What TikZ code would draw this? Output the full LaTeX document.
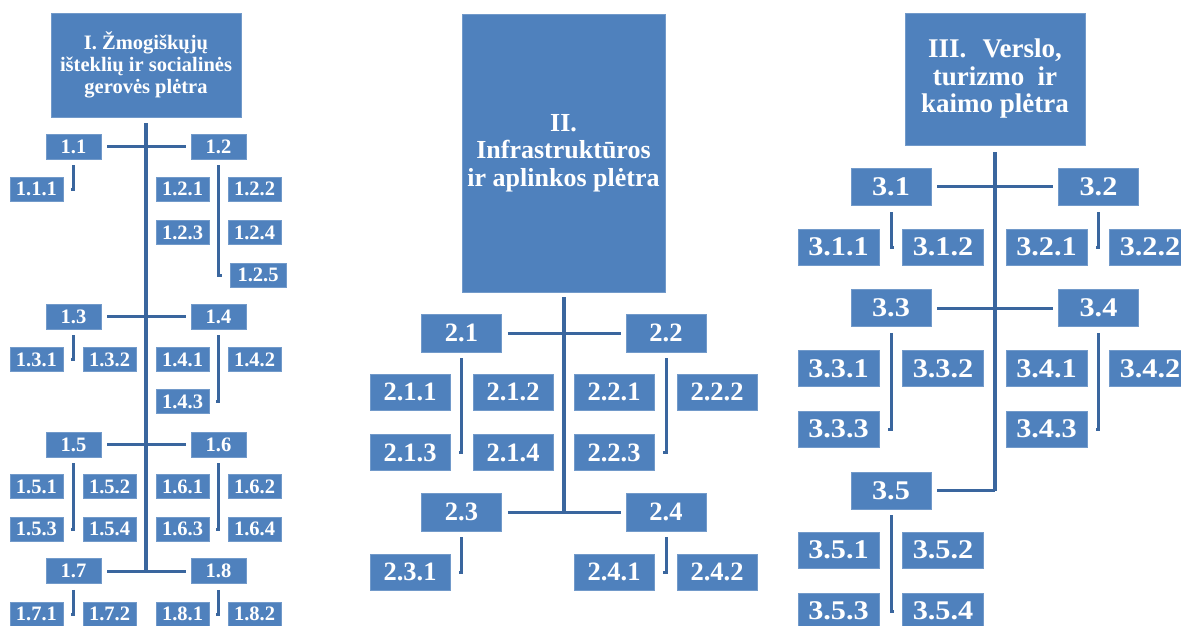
\documentclass[tikz,border=0pt]{standalone}
\usepackage{fontspec}
\setmainfont{Liberation Serif}
\newfontfamily\widefont[FakeStretch=1.12]{Liberation Serif}
\definecolor{boxblue}{RGB}{79,129,189}
\definecolor{lineblue}{RGB}{58,102,158}
\tikzset{
    box/.style={rectangle, fill=boxblue, draw=boxblue!80!white, line width=0.6pt, inner sep=0pt, text=white, align=center},
    lbox/.style={box, minimum width=55pt, minimum height=25pt, font=\fontsize{20.5}{22}\selectfont\bfseries},
    lsub/.style={box, minimum width=53pt, minimum height=24pt, font=\fontsize{20.5}{22}\selectfont\bfseries},
    mbox/.style={box, minimum width=80pt, minimum height=38pt, font=\fontsize{26.5}{28}\selectfont\bfseries},
    msub/.style={box, minimum width=80pt, minimum height=36pt, font=\fontsize{26.5}{28}\selectfont\bfseries},
    rbox/.style={box, minimum width=80pt, minimum height=37pt, font=\widefont\fontsize{27}{28}\selectfont\bfseries},
    rsub/.style={box, minimum width=81pt, minimum height=36pt, font=\widefont\fontsize{27}{28}\selectfont\bfseries},
    spine/.style={draw=lineblue, line width=4pt},
    bar/.style={draw=lineblue, line width=3pt, shorten <=6pt, shorten >=5pt},
    sub/.style={draw=lineblue, line width=3pt}
}
\begin{document}
\begin{tikzpicture}[x=1pt, y=-1pt]
    \useasboundingbox (0,0) rectangle (1181,626);

    % I. column
    \node[box, minimum width=190pt, minimum height=104pt, font=\fontsize{20.5}{22}\selectfont\bfseries] (t1) at (146,65) {I. Žmogiškųjų\\išteklių ir socialinės\\gerovės plėtra};
    \node[lbox] (a11) at (73.5,146.5) {1.1};
    \node[lbox] (a12) at (218.5,146.5) {1.2};
    \node[lbox] (a13) at (73.5,316.5) {1.3};
    \node[lbox] (a14) at (218.5,316.5) {1.4};
    \node[lbox] (a15) at (73.5,444.5) {1.5};
    \node[lbox] (a16) at (218.5,444.5) {1.6};
    \node[lbox] (a17) at (73.5,571) {1.7};
    \node[lbox] (a18) at (218.5,571) {1.8};
    \node[lsub] (a111) at (36.5,189) {1.1.1};
    \node[lsub] (a121) at (182.5,189) {1.2.1};
    \node[lsub] (a122) at (254.5,189) {1.2.2};
    \node[lsub] (a123) at (182.5,232.5) {1.2.3};
    \node[lsub] (a124) at (254.5,232.5) {1.2.4};
    \node[lsub, minimum width=56pt] (a125) at (258,275) {1.2.5};
    \node[lsub] (a131) at (36.5,359.5) {1.3.1};
    \node[lsub] (a132) at (109.5,359.5) {1.3.2};
    \node[lsub] (a141) at (182.5,359.5) {1.4.1};
    \node[lsub] (a142) at (254.5,359.5) {1.4.2};
    \node[lsub] (a143) at (182.5,401.5) {1.4.3};
    \node[lsub] (a151) at (36.5,486.5) {1.5.1};
    \node[lsub] (a152) at (109.5,486.5) {1.5.2};
    \node[lsub] (a161) at (182.5,486.5) {1.6.1};
    \node[lsub] (a162) at (254.5,486.5) {1.6.2};
    \node[lsub] (a153) at (36.5,529) {1.5.3};
    \node[lsub] (a154) at (109.5,529) {1.5.4};
    \node[lsub] (a163) at (182.5,529) {1.6.3};
    \node[lsub] (a164) at (254.5,529) {1.6.4};
    \node[lsub] (a171) at (36.5,614) {1.7.1};
    \node[lsub] (a172) at (109.5,614) {1.7.2};
    \node[lsub] (a181) at (182.5,614) {1.8.1};
    \node[lsub] (a182) at (254.5,614) {1.8.2};

    \draw[spine] ([yshift=-6pt]t1.south) -- (t1.south |- a17.east);
    \draw[bar] (a11.east) -- (a12.west);
    \draw[bar] (a13.east) -- (a14.west);
    \draw[bar] (a15.east) -- (a16.west);
    \draw[bar] (a17.east) -- (a18.west);
    \draw[sub] ([yshift=-6pt]a11.south) -- (a11.south |- a111.east) -- ++(-3,0);
    \draw[sub] ([yshift=-6pt]a12.south) -- (a12.south |- a125.west) -- ++(3,0);
    \draw[sub] ([yshift=-6pt]a13.south) -- (a13.south |- a131.east) -- ++(-3,0);
    \draw[sub] ([yshift=-6pt]a14.south) -- (a14.south |- a143.east) -- ++(-3,0);
    \draw[sub] ([yshift=-6pt]a15.south) -- (a15.south |- a153.east) -- ++(-3,0);
    \draw[sub] ([yshift=-6pt]a16.south) -- (a16.south |- a163.east) -- ++(-3,0);
    \draw[sub] ([yshift=-6pt]a17.south) -- (a17.south |- a171.east) -- ++(-3,0);
    \draw[sub] ([yshift=-6pt]a18.south) -- (a18.south |- a181.east) -- ++(-3,0);

    % II. column
    \node[box, minimum width=203pt, minimum height=278pt, font=\fontsize{26}{27.5}\selectfont\bfseries] (t2) at (563.5,153) {II.\\Infrastruktūros\\ir aplinkos plėtra};
    \node[mbox] (b21) at (461.5,333) {2.1};
    \node[mbox] (b22) at (666,333) {2.2};
    \node[mbox] (b23) at (461.5,512) {2.3};
    \node[mbox] (b24) at (666,512) {2.4};
    \node[msub] (b211) at (410,392) {2.1.1};
    \node[msub] (b212) at (513,392) {2.1.2};
    \node[msub] (b221) at (614,392) {2.2.1};
    \node[msub] (b222) at (717,392) {2.2.2};
    \node[msub] (b213) at (410,452.5) {2.1.3};
    \node[msub] (b214) at (513,452.5) {2.1.4};
    \node[msub] (b223) at (614,452.5) {2.2.3};
    \node[msub] (b231) at (410,572) {2.3.1};
    \node[msub] (b241) at (614,572) {2.4.1};
    \node[msub] (b242) at (717,572) {2.4.2};

    \draw[spine] ([yshift=-5pt]t2.south) -- (t2.south |- b23.east);
    \draw[bar] (b21.east) -- (b22.west);
    \draw[bar] (b23.east) -- (b24.west);
    \draw[sub] ([yshift=-6pt]b21.south) -- (b21.south |- b213.east) -- ++(-3,0);
    \draw[sub] ([yshift=-6pt]b22.south) -- (b22.south |- b223.east) -- ++(-3,0);
    \draw[sub] ([yshift=-6pt]b23.south) -- (b23.south |- b231.east) -- ++(-3,0);
    \draw[sub] ([yshift=-6pt]b24.south) -- (b24.south |- b241.east) -- ++(-3,0);

    % III. column
    \node[box, minimum width=180pt, minimum height=132pt, font=\fontsize{27}{27.5}\selectfont\bfseries] (t3) at (995,79) {III.\hspace{0.6em}Verslo,\\turizmo\hspace{0.5em}ir\\kaimo plėtra};
    \node[rbox] (c31) at (891,186.5) {3.1};
    \node[rbox] (c32) at (1098.5,186.5) {3.2};
    \node[rbox] (c33) at (891,308) {3.3};
    \node[rbox] (c34) at (1098.5,308) {3.4};
    \node[rbox] (c35) at (891,490.5) {3.5};
    \node[rsub] (c311) at (838.5,247) {3.1.1};
    \node[rsub] (c312) at (943,247) {3.1.2};
    \node[rsub] (c321) at (1046.5,247) {3.2.1};
    \node[rsub] (c322) at (1150,247) {3.2.2};
    \node[rsub] (c331) at (838.5,368.5) {3.3.1};
    \node[rsub] (c332) at (943,368.5) {3.3.2};
    \node[rsub] (c341) at (1046.5,368.5) {3.4.1};
    \node[rsub] (c342) at (1150,368.5) {3.4.2};
    \node[rsub] (c333) at (838.5,429) {3.3.3};
    \node[rsub] (c343) at (1046.5,429) {3.4.3};
    \node[rsub] (c351) at (838.5,550) {3.5.1};
    \node[rsub] (c352) at (943,550) {3.5.2};
    \node[rsub] (c353) at (838.5,611) {3.5.3};
    \node[rsub] (c354) at (943,611) {3.5.4};

    \draw[spine] ([yshift=-7pt]t3.south) -- (t3.south |- c35.east);
    \draw[bar] (c31.east) -- (c32.west);
    \draw[bar] (c33.east) -- (c34.west);
    \draw[bar, shorten >=0pt] (c35.east) -- (t3.south |- c35.east);
    \draw[sub] ([yshift=-7pt]c31.south) -- (c31.south |- c311.east) -- ++(3,0);
    \draw[sub] ([yshift=-7pt]c32.south) -- (c32.south |- c321.east) -- ++(-3,0);
    \draw[sub] ([yshift=-6pt]c33.south) -- (c33.south |- c333.east) -- ++(-3,0);
    \draw[sub] ([yshift=-6pt]c34.south) -- (c34.south |- c343.east) -- ++(-3,0);
    \draw[sub] ([yshift=-6pt]c35.south) -- (c35.south |- c353.east) -- ++(3,0);
\end{tikzpicture}
\end{document}
